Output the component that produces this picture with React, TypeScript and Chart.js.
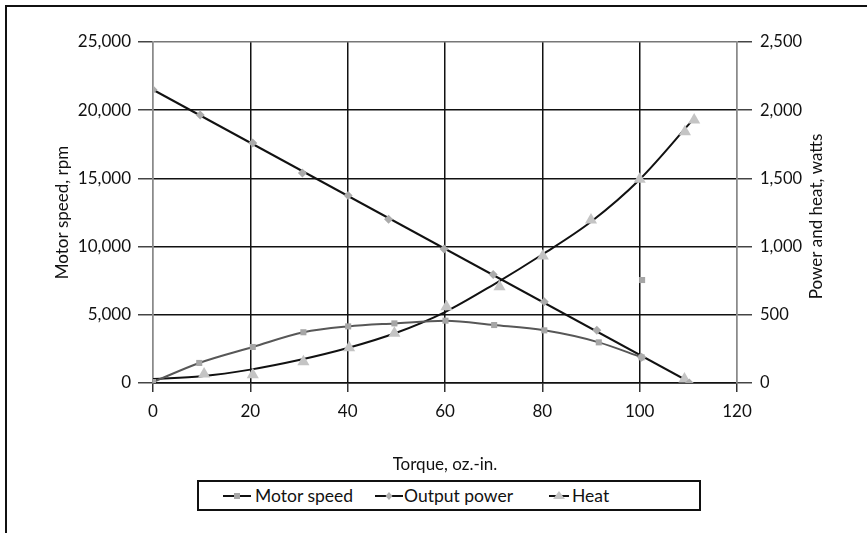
import React, { useEffect, useRef } from "react";
import { Chart, registerables } from "chart.js";

Chart.register(...registerables);

// Descending series (diamond markers) – left axis, rpm
const DIAMOND_TORQUE = [0, 9.7, 20.5, 30.7, 40.1, 48.4, 59.8, 69.9, 80.4, 91.2, 100.4, 110.2];
const DIAMOND_VALUES = [21500, 19650, 17600, 15400, 13750, 12000, 9820, 7950, 5950, 3870, 1880, 0];
const DIAMOND_TREND_TORQUE = [0, 110.6];
const DIAMOND_TREND_VALUES = [21500, 0];

// Arched series (square markers) – right axis, watts
const SQUARE_TORQUE = [0, 9.5, 20.5, 30.9, 40.1, 49.6, 60.1, 70.1, 80.4, 91.6, 100.4];
const SQUARE_VALUES = [7, 147, 264, 372, 415, 437, 457, 425, 386, 298, 188];
const SQUARE_EXTRA_TORQUE = [100.5];
const SQUARE_EXTRA_VALUES = [755];

// Heat (triangle markers) – right axis, watts
const HEAT_TORQUE = [10.5, 20.5, 30.9, 40.3, 49.6, 60.3, 71.2, 80.1, 90, 100, 109.2, 109.3, 111.2];
const HEAT_VALUES = [66, 61, 156, 259, 364, 559, 706, 931, 1195, 1493, 29, 1842, 1928];
const HEAT_TREND_TORQUE = [0, 10, 20, 30, 40, 50, 60, 70, 80, 90, 100, 110, 110.8];
const HEAT_TREND_VALUES = [30, 50, 98, 168, 256, 368, 520, 722, 942, 1182, 1492, 1892, 1925];

const LEGEND_LABELS = ["Motor speed", "Output power", "Heat"];
const X_TITLE = "Torque, oz.-in.";
const Y_LEFT_TITLE = "Motor speed, rpm";
const Y_RIGHT_TITLE = "Power and heat, watts";

const FONT = "Lato, 'Open Sans', sans-serif";
const TEXT = "#111";

const pts = (xs: number[], ys: number[]) => xs.map((x, i) => ({ x, y: ys[i] }));

const rightTitlePlugin = {
  id: "rightTitle",
  afterDraw(chart: any) {
    const { ctx, chartArea } = chart;
    ctx.save();
    ctx.translate(chartArea.right + 80, (chartArea.top + chartArea.bottom) / 2 + 4);
    ctx.rotate(-Math.PI / 2);
    ctx.font = `17px ${FONT}`;
    ctx.fillStyle = TEXT;
    ctx.textAlign = "center";
    ctx.textBaseline = "middle";
    ctx.fillText(Y_RIGHT_TITLE, 0, 0);
    ctx.restore();
  },
};

function LegendIcon({ kind }: { kind: string }) {
  const w = kind === "tri" ? 20 : 28;
  const c = w / 2;
  let marker: any = null;
  if (kind === "sq") marker = <rect x={c - 3} y={6} width={6} height={6} fill="#a6a6a6" />;
  if (kind === "dia") marker = <polygon points={`${c},5 ${c + 3.5},9 ${c},13 ${c - 3.5},9`} fill="#b0b0b0" />;
  if (kind === "tri") marker = <polygon points={`${c},4 ${c + 6},12 ${c - 6},12`} fill="#c4c4c4" />;
  return (
    <svg width={w} height={18} style={{ display: "block" }}>
      <line x1={0} y1={9} x2={w} y2={9} stroke="#111" strokeWidth={2} />
      {marker}
    </svg>
  );
}

export default function App() {
  const ref = useRef<HTMLCanvasElement | null>(null);

  useEffect(() => {
    if (!ref.current) return;
    const chart = new Chart(ref.current, {
      type: "scatter",
      data: {
        datasets: [
          {
            label: LEGEND_LABELS[1],
            data: pts(DIAMOND_TORQUE, DIAMOND_VALUES),
            yAxisID: "y",
            showLine: false,
            pointStyle: "rectRot",
            pointRadius: 4.5,
            backgroundColor: "#ababab",
            borderWidth: 0,
            order: 0,
          },
          {
            label: LEGEND_LABELS[0],
            data: pts(SQUARE_TORQUE, SQUARE_VALUES),
            yAxisID: "y1",
            showLine: true,
            cubicInterpolationMode: "monotone",
            borderColor: "#575757",
            borderWidth: 2,
            pointStyle: "rect",
            pointRadius: 4.3,
            pointBackgroundColor: "#a6a6a6",
            pointBorderWidth: 0,
            order: 0,
          },
          {
            label: "extra",
            data: pts(SQUARE_EXTRA_TORQUE, SQUARE_EXTRA_VALUES),
            yAxisID: "y1",
            showLine: false,
            pointStyle: "rect",
            pointRadius: 4.3,
            backgroundColor: "#a6a6a6",
            borderWidth: 0,
            order: 0,
          },
          {
            label: LEGEND_LABELS[2],
            data: pts(HEAT_TORQUE, HEAT_VALUES),
            yAxisID: "y1",
            showLine: false,
            pointStyle: "triangle",
            pointRadius: 7,
            backgroundColor: "#c4c4c4",
            borderWidth: 0,
            order: 0,
          },
          {
            label: "speed trend",
            data: pts(DIAMOND_TREND_TORQUE, DIAMOND_TREND_VALUES),
            yAxisID: "y",
            showLine: true,
            borderColor: "#111",
            borderWidth: 2,
            pointRadius: 0,
            order: 1,
          },
          {
            label: "heat trend",
            data: pts(HEAT_TREND_TORQUE, HEAT_TREND_VALUES),
            yAxisID: "y1",
            showLine: true,
            cubicInterpolationMode: "monotone",
            borderColor: "#111",
            borderWidth: 2,
            pointRadius: 0,
            order: 1,
          },
        ],
      },
      options: {
        animation: false,
        responsive: true,
        maintainAspectRatio: false,
        layout: { padding: { top: 42, left: 0, right: 0, bottom: 0 } },
        plugins: { legend: { display: false }, tooltip: { enabled: false }, title: { display: false } },
        scales: {
          x: {
            type: "linear",
            position: "bottom",
            min: 0,
            max: 120,
            ticks: { stepSize: 20, color: TEXT, font: { family: FONT, size: 17 }, padding: 9, maxRotation: 0 },
            grid: {
              color: (c: any) => (c.index === 0 || c.index === 6 ? "#8a8a8a" : "#111"),
              lineWidth: 1.5,
              tickColor: "#333",
              tickLength: 9,
            },
            border: { color: "#111", width: 1.5 },
            title: {
              display: true,
              text: X_TITLE,
              color: TEXT,
              font: { family: FONT, size: 17 },
              padding: { top: 0, bottom: 58 },
            },
            afterFit: (s: any) => {
              s.height = 150;
            },
          },
          y: {
            type: "linear",
            position: "left",
            min: 0,
            max: 25000,
            ticks: {
              stepSize: 5000,
              color: TEXT,
              font: { family: FONT, size: 17 },
              padding: 7,
              callback: (v: any) => Number(v).toLocaleString("en-US"),
            },
            grid: {
              color: (c: any) => (c.index === 5 ? "#777" : "#111"),
              lineWidth: 1.5,
              tickColor: "#444",
              tickLength: 15,
            },
            border: { color: "#8a8a8a", width: 1.5 },
            title: {
              display: true,
              text: Y_LEFT_TITLE,
              color: TEXT,
              font: { family: FONT, size: 17 },
              padding: { top: 52, bottom: 0 },
            },
            afterFit: (s: any) => {
              s.width = 153;
            },
          },
          y1: {
            type: "linear",
            position: "right",
            min: 0,
            max: 2500,
            ticks: {
              stepSize: 500,
              color: TEXT,
              font: { family: FONT, size: 16.5 },
              padding: 8,
              callback: (v: any) => Number(v).toLocaleString("en-US"),
            },
            grid: { drawOnChartArea: false, tickColor: "#444", tickLength: 15, lineWidth: 1.5 },
            border: { color: "#8a8a8a", width: 1.5 },
            afterFit: (s: any) => {
              s.width = 130;
            },
          },
        },
      } as any,
      plugins: [rightTitlePlugin],
    });
    return () => chart.destroy();
  }, []);

  const itemText: any = { position: "absolute", top: 3, fontSize: 17.5, lineHeight: "22px", color: TEXT };

  return (
    <div style={{ position: "absolute", left: 0, top: 0, width: 867, height: 533, overflow: "hidden", background: "#fff", fontFamily: FONT }}>
      <div style={{ position: "absolute", left: 0, top: 0, width: 867, height: 533 }}>
        <canvas ref={ref} />
      </div>
      <div
        style={{
          position: "absolute",
          left: 5,
          top: 5,
          width: 870,
          height: 560,
          borderTop: "2px solid #111",
          borderLeft: "2px solid #111",
          boxSizing: "border-box",
          pointerEvents: "none",
        }}
      />
      <div
        style={{
          position: "absolute",
          left: 197,
          top: 480,
          width: 504,
          height: 31,
          border: "2px solid #111",
          boxSizing: "border-box",
          background: "#fff",
        }}
      >
        <div style={{ position: "absolute", left: 24, top: 5 }}><LegendIcon kind="sq" /></div>
        <div style={{ ...itemText, left: 56 }}>{LEGEND_LABELS[0]}</div>
        <div style={{ position: "absolute", left: 176, top: 5 }}><LegendIcon kind="dia" /></div>
        <div style={{ ...itemText, left: 205 }}>{LEGEND_LABELS[1]}</div>
        <div style={{ position: "absolute", left: 350, top: 5 }}><LegendIcon kind="tri" /></div>
        <div style={{ ...itemText, left: 373 }}>{LEGEND_LABELS[2]}</div>
      </div>
    </div>
  );
}
